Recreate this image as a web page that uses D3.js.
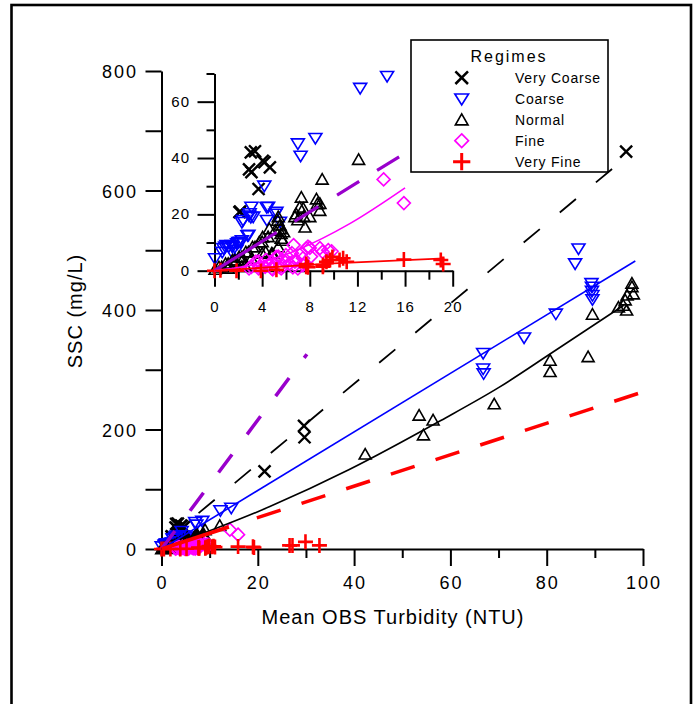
<!DOCTYPE html>
<html><head><meta charset="utf-8">
<script src="https://cdn.jsdelivr.net/npm/d3@7"></script>
<style>
body{margin:0;background:#fff}
svg text{font-family:"Liberation Sans",Arial,sans-serif;fill:#000}
</style></head><body>
<svg id="chart" width="699" height="704"></svg>
<script>
// ---------------- DATA ----------------
const regimes = ["Very Coarse","Coarse","Normal","Fine","Very Fine"];
const regimeColors = ["#000000","#0000ff","#000000","#ff00ff","#ff0000"];

// [Mean OBS turbidity (NTU), SSC (mg/L)]
const veryCoarse = [[2.1,20.8],[2.15,21],[2.9,36],[3.05,42],[3.1,35],[3.4,42.4],[3.7,29],[4.05,39],[4.2,38.5],[4.65,36.7],
  [21.4,130],[29.6,206],[29.7,187],[96.5,665]];
const coarse = [[0.04,4.4],[0.65,6.7],[0.75,8.0],[0.9,8.6],[1.0,9.1],[1.2,8.7],[1.45,9.1],[1.45,6.7],[1.5,8.5],[1.85,7.4],
  [1.9,9.7],[2.0,10.2],[2.15,10.3],[2.3,10.8],[2.77,12.6],[2.85,12.7],[2.3,17.3],[2.4,18.0],[2.9,19.6],[2.95,20.4],
  [3.05,19.1],[3.1,22.7],[3.25,19.2],[4.18,30.2],[4.38,22.6],[4.4,18.0],[4.5,22.7],[5.11,20.2],[5.2,20.9],[5.5,17.4],
  [7.0,45.2],[7.23,40.8],[8.47,47.1],[12.23,64.9],[14.49,69.1],
  [66.8,328],[66.8,302],[66.9,294],[75.3,354],[81.9,394],[85.9,478],[86.6,503],[89.3,445],[89.4,439],[89.4,432],[89.5,425],[89.5,418]];
const normal = [[0.05,0.5],[0.37,1.4],[0.6,1.4],[0.93,2.6],[1.15,0.9],[1.15,2.6],[1.5,3.8],[1.7,3.8],[1.78,3.2],[2.06,4.9],
  [2.3,1.5],[2.3,5.0],[2.35,3.8],[2.55,2.0],[2.63,6.7],[2.85,6.7],[3.1,4.4],[3.19,8.5],[3.4,8.5],[3.76,10.2],
  [4.0,6.2],[4.0,10.3],[4.04,12],[4.3,6.7],[4.5,12.1],[4.6,14.9],[4.8,6.2],[4.89,6.1],[5.1,14.4],[5.31,17.9],
  [5.35,8.5],[5.35,19.2],[5.5,16.2],[5.54,14.9],[5.59,13.2],[5.6,11.5],[5.73,10.8],[5.8,13.8],[6.75,19.2],[6.86,20.2],
  [7.0,18.1],[7.15,22.6],[7.29,26.1],[7.45,22.2],[7.49,19.3],[7.6,15.5],[8.0,19.2],[8.56,25.5],[8.64,23.8],[8.84,21.4],
  [8.85,23.9],[9.04,32.5],[12.1,39.5],
  [42.3,159],[53.5,224],[54.4,191],[56.4,216],[69.1,243],[80.7,316],[80.7,297],[88.6,322],[89.5,393],
  [94.9,405],[95.9,408],[96.3,417],[96.6,400],[96.7,425],[97.7,439],[97.7,445],[98,427]];
const fine = [[2.9,0.8],[3.1,1.4],[3.47,3.2],[3.7,0.8],[3.7,3.2],[3.76,1.4],[4.25,1.4],[4.32,3.8],[4.6,2.0],[4.8,0.8],
  [4.8,3.2],[4.89,0.5],[5.17,4.9],[5.35,5.0],[5.45,1.4],[5.6,0.8],[5.7,1.4],[5.73,3.8],[5.9,3.2],[6.0,5.5],
  [6.3,2.6],[6.5,6.2],[6.58,1.2],[6.64,9.1],[6.75,3.2],[6.86,3.8],[7.0,0.8],[7.29,6.1],[7.43,4.4],[7.43,2.0],
  [7.6,2.5],[7.71,7.9],[7.85,8.5],[8.0,8.1],[8.1,5.0],[8.85,8.0],[9.07,6.7],[9.55,7.3],[9.83,6.9],[14.2,32.4],[15.9,24]];
const veryFine = [[0,0],[0.5,0.2],[1.85,0],[3.9,0],[5.2,0.3],[7.7,1.4],[7.71,2.4],[7.85,1.2],[9.1,1.4],[9.12,2.0],
  [9.4,3.2],[9.7,3.8],[9.9,4.9],[10.5,3.8],[10.8,4.4],[11.1,3.2],[15.9,4.0],[19.0,3.8],[19.2,2.4],
  [26.6,6],[27.2,6],[29.9,12],[32.8,6]];

// fitted curves (main panel)
const vcFitMain = [[7.7,60],[95.8,651]];
const coarseFitMain = [[0,0],[98.4,482]];
const normalFitMain = [[0,0],[22.5,71],[39,133],[58,215],[70,270],[81,328],[96,408]];
const vfFitMainSolid = [[0,0],[14,37]];
const vfFitMainDash = [[19.8,52],[100,263]];
const purpleFitMain = [[0,0],[30.2,326]];
// fitted curves (inset)
const purpleFitInset = [[0,0],[15.5,40.4]];
const fineFitInset = [[0,0],[3,1.9],[6.9,7.3],[11.4,16.8],[16,29.4]];
const vfFitInset = [[0,0],[10,2.6],[19.3,4.4]];

// ticks
const mainXMajor = [0,20,40,60,80,100], mainXMinor = [10,30,50,70,90];
const mainYTicks = [0,100,200,300,400,500,600,700,800], mainYLabels = [0,200,400,600,800];
const insetXMajor = [0,4,8,12,16,20], insetXMinor = [2,6,10,14,18];
const insetYMajor = [0,20,40,60], insetYMinor = [10,30,50,70];

const xTitle = "Mean OBS Turbidity (NTU)";
const yTitle = "SSC (mg/L)";
const legendTitle = "Regimes";

// ---------------- DRAW ----------------
const svg = d3.select("#chart");
svg.append("rect").attr("x",11.5).attr("y",5).attr("width",679.5).attr("height",720)
  .attr("fill","#fff").attr("stroke","#000").attr("stroke-width",2.6);

const X = d3.scaleLinear().domain([0,100]).range([161.5,643]);
const Y = d3.scaleLinear().domain([0,800]).range([549,71]);
const IX = d3.scaleLinear().domain([0,20]).range([214.5,452.7]);
const IY = d3.scaleLinear().domain([0,70]).range([270.7,73.5]);

const shapes = [
  "M-6,-6L6,6M-6,6L6,-6",
  "M-6.5,-4.5L6.5,-4.5L0,6Z",
  "M-6,5L6,5L0,-5.5Z",
  "M0,-6.5L6.5,0L0,6.5L-6.5,0Z",
  "M-7.5,0L7.5,0M0,-7.5L0,7.5"
];
const widths = [2.4,1.6,1.6,1.6,2.6];
const allSeries = [veryCoarse, coarse, normal, fine, veryFine];

function styleAxis(g, w){
  g.selectAll(".domain").attr("stroke","#000").attr("stroke-width",w);
  g.selectAll(".tick line").attr("stroke","#000").attr("stroke-width",w);
}

// main axes
let g = svg.append("g").attr("transform",`translate(0,${Y(0)})`)
  .call(d3.axisBottom(X).tickValues(mainXMajor).tickSize(17).tickSizeOuter(0).tickFormat(""));
styleAxis(g,2);
g = svg.append("g").attr("transform",`translate(0,${Y(0)})`)
  .call(d3.axisBottom(X).tickValues(mainXMinor).tickSize(9).tickSizeOuter(0).tickFormat(""));
g.select(".domain").remove(); styleAxis(g,2);
g = svg.append("g").attr("transform",`translate(${X(0)},0)`)
  .call(d3.axisLeft(Y).tickValues(mainYTicks).tickSize(16).tickSizeOuter(0).tickFormat(""));
styleAxis(g,2);

svg.selectAll(".mxl").data(mainXMajor).enter().append("text")
  .attr("x",d=>X(d)+1).attr("y",588.5).attr("text-anchor","middle")
  .attr("font-size",18).attr("letter-spacing",2).text(d=>d);
svg.selectAll(".myl").data(mainYLabels).enter().append("text")
  .attr("x",138).attr("y",d=>Y(d)+7).attr("text-anchor","end")
  .attr("font-size",18).attr("letter-spacing",2).text(d=>d);

svg.append("text").attr("x",393).attr("y",624).attr("text-anchor","middle")
  .attr("font-size",20).attr("letter-spacing",1.0).text(xTitle);
svg.append("text").attr("transform","translate(82,311) rotate(-90)").attr("text-anchor","middle")
  .attr("font-size",20).attr("letter-spacing",1.0).text(yTitle);

// inset axes
g = svg.append("g").attr("transform",`translate(0,${IY(0)})`)
  .call(d3.axisBottom(IX).tickValues(insetXMajor).tickSize(16).tickSizeOuter(0).tickFormat(""));
styleAxis(g,2);
g = svg.append("g").attr("transform",`translate(0,${IY(0)})`)
  .call(d3.axisBottom(IX).tickValues(insetXMinor).tickSize(9).tickSizeOuter(0).tickFormat(""));
g.select(".domain").remove(); styleAxis(g,2);
g = svg.append("g").attr("transform",`translate(${IX(0)},0)`)
  .call(d3.axisLeft(IY).tickValues(insetYMajor).tickSize(17).tickSizeOuter(0).tickFormat(""));
styleAxis(g,2);
g = svg.append("g").attr("transform",`translate(${IX(0)},0)`)
  .call(d3.axisLeft(IY).tickValues(insetYMinor).tickSize(8).tickSizeOuter(0).tickFormat(""));
g.select(".domain").remove(); styleAxis(g,2);

svg.selectAll(".ixl").data(insetXMajor).enter().append("text")
  .attr("x",d=>IX(d)+0.5).attr("y",311.5).attr("text-anchor","middle")
  .attr("font-size",15).attr("letter-spacing",1).text(d=>d);
svg.selectAll(".iyl").data(insetYMajor).enter().append("text")
  .attr("x",190).attr("y",d=>IY(d)+5).attr("text-anchor","end")
  .attr("font-size",15).attr("letter-spacing",1).text(d=>d);

// markers
function drawPoints(sx, sy, filter){
  allSeries.forEach((pts,i)=>{
    const data = pts.filter(filter);
    svg.append("g").selectAll("path").data(data).enter().append("path")
      .attr("d",shapes[i]).attr("transform",d=>`translate(${sx(d[0])},${sy(d[1])})`)
      .attr("fill","none").attr("stroke",regimeColors[i]).attr("stroke-width",widths[i]);
  });
}
drawPoints(X, Y, d=>true);
drawPoints(IX, IY, d=>d[0]<=20.5 && d[1]<=71);

function drawLine(sx, sy, pts, color, w, dash, curve){
  const line = d3.line().x(d=>sx(d[0])).y(d=>sy(d[1])).curve(curve||d3.curveLinear);
  svg.append("path").datum(pts).attr("d",line).attr("fill","none")
    .attr("stroke",color).attr("stroke-width",w).attr("stroke-dasharray",dash||null);
}
// main fits
drawLine(X,Y,purpleFitMain,"#9900cc",3.5,"22.5,25.2");
drawLine(X,Y,vcFitMain,"#000",1.8,"21,26");
drawLine(X,Y,coarseFitMain,"#0000ff",1.6);
drawLine(X,Y,normalFitMain,"#000",1.6,null,d3.curveMonotoneX);
drawLine(X,Y,vfFitMainSolid,"#ff0000",3.8);
drawLine(X,Y,vfFitMainDash,"#ff0000",3.5,"25,22");
// inset fits
drawLine(IX,IY,purpleFitInset,"#9900cc",3.2,"73,21,28,22,26,21,27");
drawLine(IX,IY,fineFitInset,"#ff00ff",1.6,null,d3.curveMonotoneX);
drawLine(IX,IY,vfFitInset,"#ff0000",1.8,null,d3.curveMonotoneX);

// legend
svg.append("rect").attr("x",411).attr("y",40).attr("width",197).attr("height",132)
  .attr("fill","#fff").attr("stroke","#000").attr("stroke-width",1.6);
svg.append("text").attr("x",509).attr("y",61.5).attr("text-anchor","middle")
  .attr("font-size",16).attr("letter-spacing",2).text(legendTitle);
regimes.forEach((r,i)=>{
  const cy = 77.7 + i*21;
  svg.append("path").attr("d",shapes[i]).attr("transform",`translate(461.7,${cy}) scale(${i===4?1.15:1.05})`)
    .attr("fill","none").attr("stroke",regimeColors[i]).attr("stroke-width",widths[i]);
  svg.append("text").attr("x",515).attr("y",cy+5).attr("font-size",14).attr("letter-spacing",0.8).text(r);
});
</script>
</body></html>
